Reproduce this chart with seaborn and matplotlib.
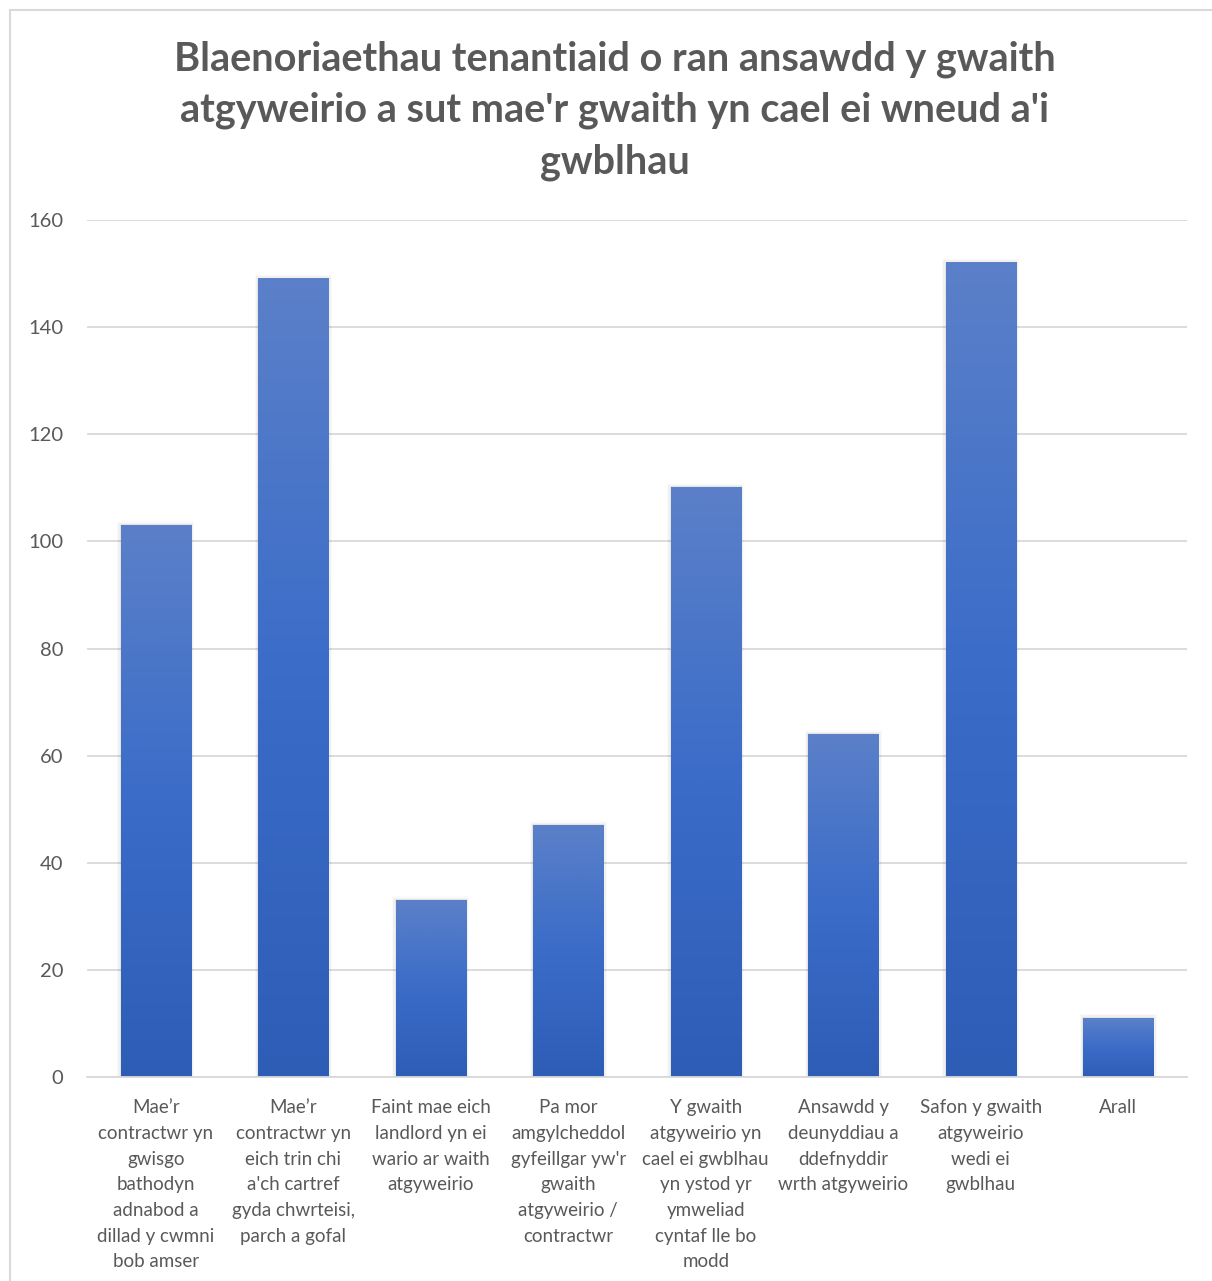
import numpy as np
import pandas as pd
import matplotlib
matplotlib.use("Agg")
import matplotlib.pyplot as plt
import seaborn as sns
from matplotlib.colors import LinearSegmentedColormap
from matplotlib.patches import Rectangle

sns.set_theme(style="white")
plt.rcParams['font.family'] = ['Lato', 'DejaVu Sans']

# data
categories = [
    "Mae\u2019r\ncontractwr yn\ngwisgo\nbathodyn\nadnabod a\ndillad y cwmni\nbob amser",
    "Mae\u2019r\ncontractwr yn\neich trin chi\na'ch cartref\ngyda chwrteisi,\nparch a gofal",
    "Faint mae eich\nlandlord yn ei\nwario ar waith\natgyweirio",
    "Pa mor\namgylcheddol\ngyfeillgar yw'r\ngwaith\natgyweirio /\ncontractwr",
    "Y gwaith\natgyweirio yn\ncael ei gwblhau\nyn ystod yr\nymweliad\ncyntaf lle bo\nmodd",
    "Ansawdd y\ndeunyddiau a\nddefnyddir\nwrth atgyweirio",
    "Safon y gwaith\natgyweirio\nwedi ei\ngwblhau",
    "Arall",
]
values = [103, 149, 33, 47, 110, 64, 152, 11]
yticks = [0, 20, 40, 60, 80, 100, 120, 140, 160]
title = ("Blaenoriaethau tenantiaid o ran ansawdd y gwaith\n"
         "atgyweirio a sut mae'r gwaith yn cael ei wneud a'i\ngwblhau")

df = pd.DataFrame({"cat": categories, "val": values})

fig = plt.figure(figsize=(12.12, 12.81), dpi=100)
ax = fig.add_axes([87 / 1212, 204 / 1281, 1100 / 1212, 857 / 1281])

sns.barplot(data=df, x="cat", y="val", color="#4472C4", width=0.51,
            saturation=1, ax=ax, zorder=2, linewidth=0)

# gradient fill like the Excel style
grad = LinearSegmentedColormap.from_list("g", ["#2E5DB6", "#3A6CC8", "#5B80C8"])
gimg = np.linspace(0, 1, 256).reshape(-1, 1)
for p in list(ax.patches):
    x0, y0 = p.get_x(), p.get_y()
    w, h = p.get_width(), p.get_height()
    # soft shadow
    for k, a in enumerate([0.05, 0.035, 0.02]):
        ax.add_patch(Rectangle((x0 - 0.008 * (k + 1), y0), w + 0.016 * (k + 1), h + 0.25 * (k + 1),
                               facecolor="black", alpha=a, edgecolor="none", zorder=1.5))
    p.set_facecolor("none")
    p.set_edgecolor("none")
    ax.imshow(gimg, cmap=grad, aspect="auto", origin="lower",
              extent=(x0, x0 + w, y0, y0 + h), zorder=2.5)

ax.set_xlim(-0.5, len(categories) - 0.5)
ax.set_ylim(0, 160)
ax.set_yticks(yticks)
ax.yaxis.grid(True, color="#D9D9D9", linewidth=1.3, zorder=0)
ax.set_axisbelow(True)
for s in ["top", "right", "left"]:
    ax.spines[s].set_visible(False)
ax.spines["bottom"].set_color("#D9D9D9")
ax.spines["bottom"].set_linewidth(1.3)
ax.spines["bottom"].set_zorder(3)
ax.set_xlabel("")
ax.set_ylabel("")
ax.tick_params(axis="x", length=0, colors="#595959", labelsize=13.5, pad=16)
ax.tick_params(axis="y", length=0, colors="#595959", labelsize=14.5, pad=17)
for t in ax.get_xticklabels():
    t.set_linespacing(1.62)

fig.text(0.507, 1 - 40 / 1281, title, ha="center", va="top", fontsize=28.5,
         fontweight="bold", color="#595959", linespacing=1.47)

# chart area border
fig.patches.append(Rectangle((10 / 1212, -0.05), 1.1, 1.05 - 10 / 1281,
                             transform=fig.transFigure, facecolor="none",
                             edgecolor="#D9D9D9", linewidth=1.5))

fig.savefig("out.png", dpi=100)
